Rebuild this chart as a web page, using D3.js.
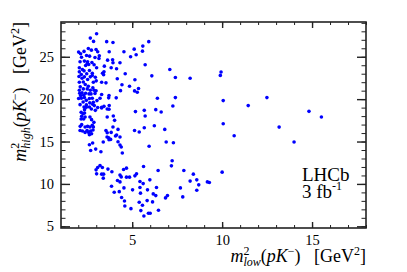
<!DOCTYPE html>
<html>
  <head>
    <meta charset="UTF-8" />
    <script src="https://d3js.org/d3.v7.min.js"></script>
    <style>
      body { margin: 0; background: #fff; }
      svg { display: block; }
      text { font-family: "Liberation Serif", "Times New Roman", serif; fill: #000; }
    </style>
  </head>
  <body>
    <svg width="407" height="272"></svg>
    <script>
      // m2_low(pK-) values, GeV^2
      var mLow = [
        8.22, 9.94, 9.9, 10.06, 11.45, 12.49, 10.06, 10.67, 13.17, 14.0, 14.83, 15.52,
        8.4, 8.22, 8.59, 8.7, 8.59, 9.18, 9.29, 10.0,
        2.69, 3.26, 4.45, 3.21, 3.08, 2.99, 3.34, 3.02, 3.3, 3.41, 3.39, 3.65, 3.87, 4.32, 4.39,
        4.52, 4.68, 4.68, 4.85, 5.15, 5.24, 5.63, 6.44, 7.18, 7.22, 7.87, 4.18, 4.32, 3.85, 4.0,
        4.28, 4.54, 4.41, 4.57, 4.59, 4.93, 5.02, 5.43, 5.61, 5.43, 5.46, 5.98, 5.85, 6.17, 6.35,
        6.31, 5.83, 6.13, 5.39, 5.57, 5.48, 5.65, 5.9, 6.0, 6.46, 6.85, 6.96, 7.68, 7.81, 5.94,
        6.89, 7.29,
        4.35, 5.13, 5.28, 5.35, 3.71, 3.69, 4.11, 3.72, 3.71, 3.61, 3.95, 4.02, 6.4, 7.4, 7.26,
        5.18, 5.67, 5.72, 6.31, 6.61, 6.23, 6.81, 5.67, 5.13, 5.39, 3.93, 4.21, 3.54, 3.61, 3.83,
        4.07, 4.32, 4.13, 3.6, 3.69, 3.8, 4.21, 4.32, 4.39,
        3.58, 3.93, 5.92, 5.59, 5.11, 5.57, 5.22, 4.91, 4.54, 3.72, 3.63, 3.91, 3.93, 4.32, 3.83,
        4.13, 5.72, 4.61, 6.09, 7.09, 7.4, 4.17, 5.15, 4.43, 4.85,
        3.02, 2.67, 2.85, 2.56, 2.73, 2.99, 3.08, 2.02, 2.13, 2.32, 2.46, 2.63, 2.93, 2.18, 2.1,
        2.34, 2.52, 2.5, 2.41, 2.58, 2.76, 3.15, 2.06, 2.23, 2.32, 2.62, 2.78, 2.88, 3.02, 3.43,
        2.06, 2.04, 2.17, 2.21, 2.34, 2.47, 2.52, 2.67, 2.78, 2.95, 3.0, 2.84, 2.28, 2.39, 2.56,
        2.06, 2.11, 2.06, 2.28, 2.5, 2.67, 2.81, 2.88, 2.99, 2.08, 2.21, 2.13, 2.3, 2.41, 2.6,
        2.71, 2.93, 2.02, 2.17, 2.34, 2.45, 2.62, 2.78, 2.27, 2.45, 2.64, 2.84, 3.04, 3.21, 2.45,
        2.62, 2.8, 2.89, 2.73, 2.95, 3.08, 3.3, 3.43, 3.17, 3.45, 3.35, 3.41, 3.3, 3.54, 3.3,
        2.1, 2.32, 2.35, 3.3, 3.61, 2.16, 2.27, 2.35, 2.19, 2.16, 2.3, 2.38, 2.65, 2.87, 2.74,
        2.11, 2.19, 2.38, 2.52, 2.65, 2.78, 2.84, 2.1, 2.23, 2.38, 2.49, 2.58, 2.69, 2.82, 2.62,
        2.74, 2.62, 2.8, 2.97, 3.39, 3.71
      ];
      // m2_high(pK-) values, GeV^2
      var mHigh = [
        22.47, 23.2, 22.8, 19.83, 19.24, 20.18, 17.1, 15.69, 16.7, 14.94, 18.56, 17.9,
        11.15, 10.33, 10.48, 9.89, 9.26, 10.24, 10.16, 11.39,
        13.95, 13.79, 13.64, 12.17, 11.93, 11.66, 11.93, 11.19, 11.15, 11.15, 10.68, 11.75, 11.43, 11.04, 10.83,
        11.7, 11.86, 10.8, 10.8, 10.95, 11.19, 12.05, 11.58, 12.13, 12.73, 11.58, 10.4, 10.24, 9.73, 9.02,
        9.09, 9.53, 8.39, 7.99, 7.4, 7.08, 9.3, 10.28, 10.04, 9.57, 8.91, 10.48, 9.3, 8.82, 9.57,
        8.62, 8.03, 7.88, 7.84, 7.49, 6.85, 6.22, 6.54, 6.54, 6.89, 8.35, 8.62, 9.53, 8.47, 14.45,
        14.94, 14.86,
        21.0, 20.97, 20.81, 21.25, 20.42, 20.15, 20.15, 19.24, 18.8, 17.9, 18.02, 17.5, 20.1, 20.18, 19.2,
        18.53, 18.68, 18.02, 18.76, 18.49, 16.87, 16.43, 16.63, 16.31, 16.12, 16.72, 16.43, 16.31, 16.04, 16.08,
        15.65, 15.53, 15.77, 15.53, 15.45, 15.25, 14.98, 14.59, 14.35,
        26.78, 26.69, 26.78, 26.26, 25.9, 25.66, 25.23, 25.0, 25.59, 25.59, 24.6, 24.65, 24.29, 24.29, 23.7,
        23.58, 24.05, 22.99, 22.75, 23.5, 22.55, 22.4, 22.28, 21.69, 21.52,
        27.72, 27.2, 26.81, 25.98, 25.78, 25.86, 25.59, 25.55, 25.36, 25.63, 25.15, 25.07, 24.91, 24.95, 24.41,
        24.49, 24.41, 24.21, 23.97, 24.09, 24.33, 24.8, 23.7, 23.5, 23.34, 23.38, 23.06, 24.05, 23.7, 23.22,
        23.22, 22.67, 22.9, 22.47, 22.63, 22.99, 22.31, 22.63, 22.79, 22.59, 22.16, 21.99, 22.03, 21.72, 21.52,
        21.99, 21.45, 21.05, 21.21, 21.21, 21.05, 21.33, 21.05, 20.98, 20.69, 20.74, 20.42, 20.46, 20.69, 20.62,
        20.62, 20.66, 20.07, 20.1, 20.18, 19.86, 20.07, 20.1, 19.67, 19.32, 19.56, 19.63, 19.83, 20.1, 19.04,
        19.08, 19.39, 19.24, 18.84, 18.68, 19.0, 19.04, 19.15, 25.12, 23.89, 23.06, 22.87, 21.99, 21.92, 20.54,
        19.35, 19.08, 18.76, 18.96, 18.84, 18.44, 18.29, 18.37, 17.97, 17.66, 17.66, 17.9, 17.9, 17.26, 17.58,
        16.79, 16.99, 16.72, 16.79, 16.72, 16.91, 16.72, 16.31, 16.24, 16.08, 16.31, 16.08, 16.24, 16.36, 15.8,
        15.92, 14.62, 14.82, 14.11, 14.94, 15.21
      ];
      var xMajor = [5, 10, 15];
      var xMinor = d3.range(2, 19);
      var yMajor = [5, 10, 15, 20, 25];
      var yMinor = d3.range(5, 30);

      var svg = d3.select("svg");
      var frame = { l: 61, r: 366, t: 22, b: 228 };

      var x = d3.scaleLinear().domain([1.04, 18]).range([frame.l, frame.r]);
      var y = d3.scaleLinear().domain([4.8, 29.1]).range([frame.b, frame.t]);

      var pts = mLow.map(function (d, i) { return [d, mHigh[i]]; });

      svg.append("g")
        .selectAll("circle")
        .data(pts)
        .enter()
        .append("circle")
        .attr("cx", function (d) { return x(d[0]); })
        .attr("cy", function (d) { return y(d[1]); })
        .attr("r", 1.8)
        .attr("fill", "#0000ff");

      // ticks on all four sides, pointing inwards
      function ticks(axis, vals, size, tr, labels) {
        var g = svg.append("g")
          .attr("transform", tr)
          .call(axis.tickValues(vals).tickSize(size).tickPadding(7)
            .tickFormat(labels ? d3.format("d") : ""));
        g.select(".domain").remove();
        g.selectAll("line").attr("stroke", "#222").attr("stroke-width", 1);
        g.selectAll("text").attr("font-size", 14.5);
        return g;
      }
      ticks(d3.axisBottom(x), xMinor, -3, "translate(0," + frame.b + ")", false);
      ticks(d3.axisBottom(x), xMajor, -6, "translate(0," + frame.b + ")", true)
        .selectAll("line").attr("stroke-width", 1.4);
      ticks(d3.axisTop(x), xMinor, -3, "translate(0," + frame.t + ")", false);
      ticks(d3.axisTop(x), xMajor, -6, "translate(0," + frame.t + ")", false)
        .selectAll("line").attr("stroke-width", 1.4);
      ticks(d3.axisLeft(y), yMinor, -4.5, "translate(" + frame.l + ",0)", false);
      ticks(d3.axisLeft(y), yMajor, -9, "translate(" + frame.l + ",0)", true)
        .selectAll("line").attr("stroke-width", 1.4);
      ticks(d3.axisRight(y), yMinor, -4.5, "translate(" + frame.r + ",0)", false);
      ticks(d3.axisRight(y), yMajor, -9, "translate(" + frame.r + ",0)", false)
        .selectAll("line").attr("stroke-width", 1.4);

      svg.append("rect")
        .attr("x", frame.l).attr("y", frame.t)
        .attr("width", frame.r - frame.l).attr("height", frame.b - frame.t)
        .attr("fill", "none").attr("stroke", "#222").attr("stroke-width", 1.6);

      // axis title like m^2_sub(pK^-) [GeV^2]
      function title(t, sub) {
        t.append("tspan").attr("font-style", "italic").text("m");
        t.append("tspan").attr("font-size", 12).attr("dy", -7).text("2");
        t.append("tspan").attr("font-size", 12).attr("font-style", "italic")
          .attr("dx", -6).attr("dy", 11).text(sub);
        t.append("tspan").attr("dy", -4).text("(");
        t.append("tspan").attr("font-style", "italic").text("pK");
        t.append("tspan").attr("font-size", 12).attr("dy", -7).text("\u2212");
        t.append("tspan").attr("dy", 7).text(")\u00a0\u00a0\u00a0[GeV");
        t.append("tspan").attr("font-size", 12).attr("dy", -7).text("2");
        t.append("tspan").attr("dy", 7).text("]");
      }

      var xt = svg.append("text")
        .attr("x", frame.r).attr("y", 262)
        .attr("text-anchor", "end").attr("font-size", 18);
      title(xt, "low");

      var yt = svg.append("text")
        .attr("transform", "translate(26," + frame.t + ") rotate(-90)")
        .attr("text-anchor", "end").attr("font-size", 18);
      title(yt, "high");

      svg.append("text").attr("x", 302).attr("y", 181)
        .attr("font-size", 19).text("LHCb");
      var lumi = svg.append("text").attr("x", 302).attr("y", 198)
        .attr("font-size", 19);
      lumi.append("tspan").text("3 fb");
      lumi.append("tspan").attr("font-size", 12).attr("dy", -8).text("-1");
    </script>
  </body>
</html>
